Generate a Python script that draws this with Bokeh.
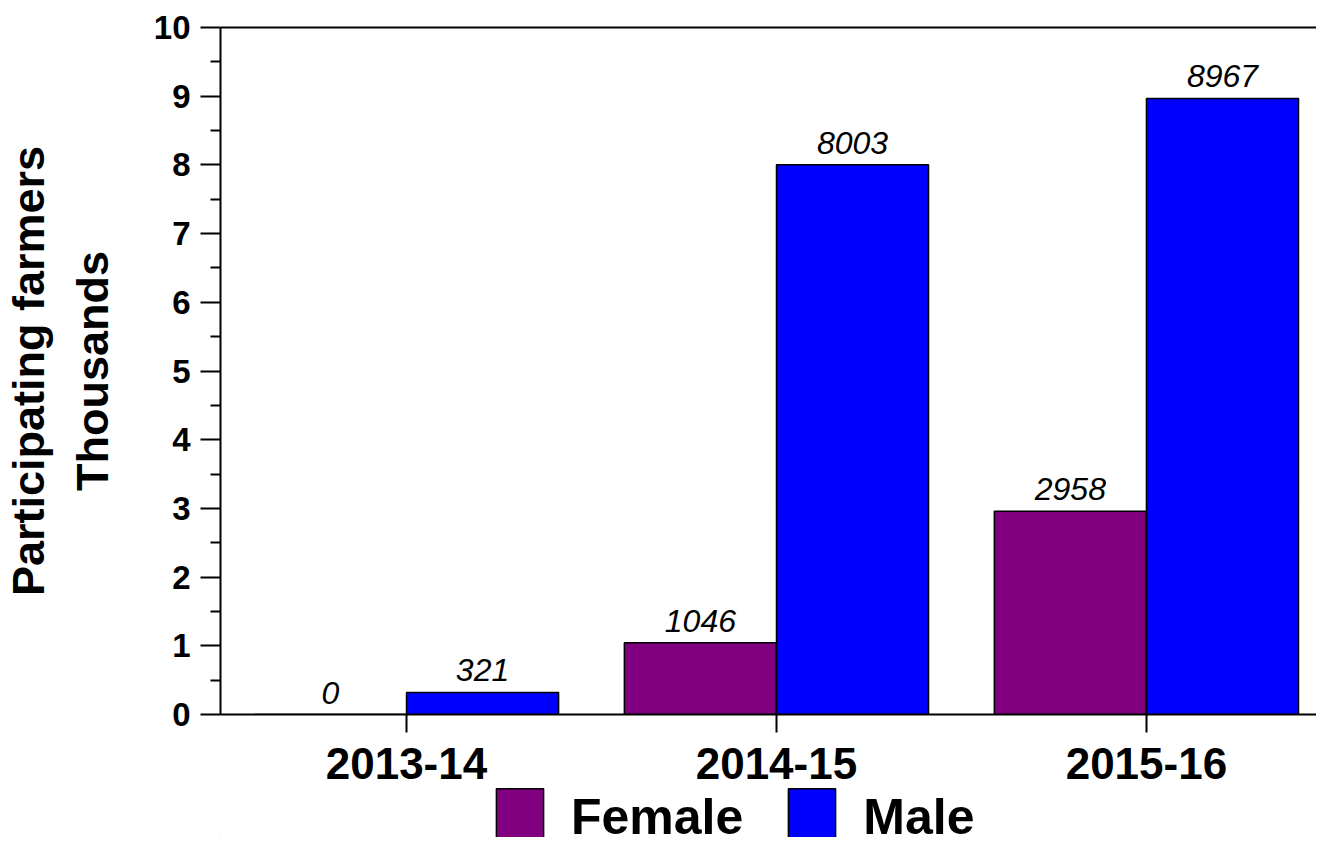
from bokeh.plotting import figure
from bokeh.layouts import column
from bokeh.models import (Range1d, FixedTicker, LinearAxis, Legend, LegendItem,
                          ColumnDataSource)
from bokeh.transform import dodge
from bokeh.core.properties import value
from bokeh.embed import file_html
from bokeh.resources import INLINE

# ---- data ----
years = ["2013-14", "2014-15", "2015-16"]
female = [0, 1046, 2958]
male = [321, 8003, 8967]
y_ticks = list(range(0, 11))

FONT = "Liberation Sans"
FEMALE_C = "#800080"
MALE_C = "#0000FF"
x_idx = list(range(len(years)))
off = 0.2056
bw = 0.411

src = ColumnDataSource(dict(
    x=x_idx,
    female=[v / 1000 for v in female],
    male=[v / 1000 for v in male],
    flab=[str(v) for v in female],
    mlab=[str(v) for v in male],
))

p = figure(width=1316, height=781, output_backend="svg", toolbar_location=None,
           x_range=Range1d(-0.5027, 2.4597), y_range=Range1d(0, 10),
           min_border_left=214, min_border_top=27, min_border_right=0,
           min_border_bottom=0)
p.outline_line_color = None
p.xgrid.visible = False
p.ygrid.visible = False

rf = p.vbar(x=dodge("x", -off, range=p.x_range), top="female", width=bw, source=src,
            fill_color=FEMALE_C, line_color="black", line_width=1.5)
rm = p.vbar(x=dodge("x", off, range=p.x_range), top="male", width=bw, source=src,
            fill_color=MALE_C, line_color="black", line_width=1.5)

for col, lab, dx in (("female", "flab", -off), ("male", "mlab", off)):
    p.text(x=dodge("x", dx, range=p.x_range), y=col, text=lab, source=src,
           text_align="center", text_baseline="alphabetic", y_offset=-22,
           text_font=value(FONT), text_font_style="italic", text_font_size="32px",
           text_color="black")

# y axis
ya = p.yaxis[0]
ya.ticker = FixedTicker(ticks=y_ticks, minor_ticks=[t + 0.5 for t in y_ticks[:-1]])
ya.axis_line_width = 2
ya.axis_line_color = "black"
ya.major_tick_line_width = 2
ya.major_tick_out = 20
ya.major_tick_in = 0
ya.minor_tick_line_width = 2
ya.minor_tick_out = 10
ya.minor_tick_in = 0
ya.major_label_text_font = FONT
ya.major_label_text_font_style = "bold"
ya.major_label_text_font_size = "33px"
ya.major_label_text_color = "black"
ya.major_label_standoff = 10
ya.axis_label = "Participating farmers\nThousands"
ya.axis_label_text_font = FONT
ya.axis_label_text_font_style = "bold"
ya.axis_label_text_font_size = "45px"
ya.axis_label_text_color = "black"
ya.axis_label_text_line_height = 1.25
ya.axis_label_standoff = 33

# x axis
xa = p.xaxis[0]
xa.ticker = FixedTicker(ticks=x_idx)
xa.major_label_overrides = {i: y for i, y in zip(x_idx, years)}
xa.axis_line_width = 2
xa.axis_line_color = "black"
xa.major_tick_line_width = 2
xa.major_tick_out = 18
xa.major_tick_in = 0
xa.minor_tick_line_color = None
xa.major_label_text_font = FONT
xa.major_label_text_font_style = "bold"
xa.major_label_text_font_size = "44px"
xa.major_label_text_color = "black"
xa.major_label_standoff = 15

# top border line
top = LinearAxis(ticker=FixedTicker(ticks=[]), major_tick_line_color=None,
                 minor_tick_line_color=None, major_label_standoff=0,
                 axis_line_width=2, axis_line_color="black")
p.add_layout(top, "above")

# ---- legend strip (separate small figure) ----
p2 = figure(width=1316, height=56, output_backend="svg", toolbar_location=None,
            x_range=Range1d(0, 1), y_range=Range1d(0, 1), min_border=0)
p2.axis.visible = False
p2.grid.visible = False
p2.outline_line_color = None
proxy = ColumnDataSource(dict(x=[-5], top=[0]))   # legend proxies, off-frame
lf = p2.vbar(x="x", top="top", width=0.1, source=proxy,
             fill_color=FEMALE_C, line_color="black", line_width=1.5)
lm = p2.vbar(x="x", top="top", width=0.1, source=proxy,
             fill_color=MALE_C, line_color="black", line_width=1.5)

legend = Legend(items=[LegendItem(label="Female", renderers=[lf]),
                       LegendItem(label="Male", renderers=[lm])],
                location=(270, -16), orientation="horizontal",
                glyph_width=59, glyph_height=72, label_standoff=22, spacing=39,
                padding=0, margin=0, border_line_color=None,
                background_fill_alpha=0,
                label_text_font=FONT, label_text_font_style="bold",
                label_text_font_size="50px", label_text_color="black")
p2.add_layout(legend)

open("out.html", "w").write(file_html(column(p, p2, spacing=0), INLINE))
